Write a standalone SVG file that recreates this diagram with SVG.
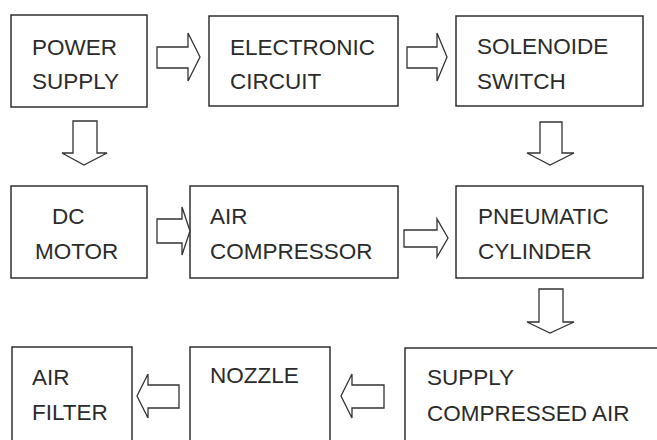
<svg xmlns="http://www.w3.org/2000/svg" width="657" height="440" viewBox="0 0 657 440">
<style>
.box{fill:#fff;stroke:#222;stroke-width:1.4}
.lbl{font-family:"Liberation Sans",Arial,sans-serif;font-size:22.5px;fill:#2b2b2b}
.arr{fill:#fff;stroke:#333;stroke-width:1.3;stroke-linejoin:miter}
</style>
<rect width="657" height="440" fill="#fff"/>
<g id="power-supply"><rect class="box" x="11" y="15" width="136" height="92"/><text class="lbl" x="32" y="55">POWER</text><text class="lbl" x="32" y="89">SUPPLY</text></g>
<g id="electronic-circuit"><rect class="box" x="209" y="16" width="189" height="90"/><text class="lbl" x="230" y="55">ELECTRONIC</text><text class="lbl" x="230" y="89">CIRCUIT</text></g>
<g id="solenoide-switch"><rect class="box" x="456" y="16" width="187" height="90"/><text class="lbl" x="477" y="54">SOLENOIDE</text><text class="lbl" x="477" y="89">SWITCH</text></g>
<g id="dc-motor"><rect class="box" x="11" y="186" width="136" height="92"/><text class="lbl" x="52" y="224">DC</text><text class="lbl" x="35" y="259">MOTOR</text></g>
<g id="air-compressor"><rect class="box" x="190" y="186" width="208" height="92"/><text class="lbl" x="210" y="224">AIR</text><text class="lbl" x="210" y="259">COMPRESSOR</text></g>
<g id="pneumatic-cylinder"><rect class="box" x="456" y="186" width="187" height="92"/><text class="lbl" x="478" y="224">PNEUMATIC</text><text class="lbl" x="478" y="259">CYLINDER</text></g>
<g id="air-filter"><rect class="box" x="12" y="347" width="120" height="110"/><text class="lbl" x="32" y="385">AIR</text><text class="lbl" x="32" y="420">FILTER</text></g>
<g id="nozzle"><rect class="box" x="190" y="347" width="140" height="110"/><text class="lbl" x="210" y="383">NOZZLE</text></g>
<g id="supply-compressed-air"><rect class="box" x="405" y="348" width="270" height="110"/><text class="lbl" x="427" y="385">SUPPLY</text><text class="lbl" x="427" y="421">COMPRESSED AIR</text></g>
<g id="connectors">
<polygon class="arr" points="157,47 188,47 188,33 200,57 188,81 188,68 157,68"/>
<polygon class="arr" points="407,47 437,47 437,33 447,57 437,81 437,68 407,68"/>
<polygon class="arr" points="157,219 182,219 182,207 190,231 182,255 182,243 157,243"/>
<polygon class="arr" points="404,230 437,230 437,219 448,238 437,257 437,247 404,247"/>
<polygon class="arr" points="73,121 97,121 97,153 107,153 84,165 62,153 73,153"/>
<polygon class="arr" points="540,122 562,122 562,153 574,153 550,165 527,153 540,153"/>
<polygon class="arr" points="539,289 563,289 563,322 574,322 550,333 527,322 539,322"/>
<polygon class="arr" points="179,385 148,385 148,374 137,396 148,418 148,408 179,408"/>
<polygon class="arr" points="384,385 352,385 352,374 341,396 352,418 352,408 384,408"/>
</g>
</svg>
